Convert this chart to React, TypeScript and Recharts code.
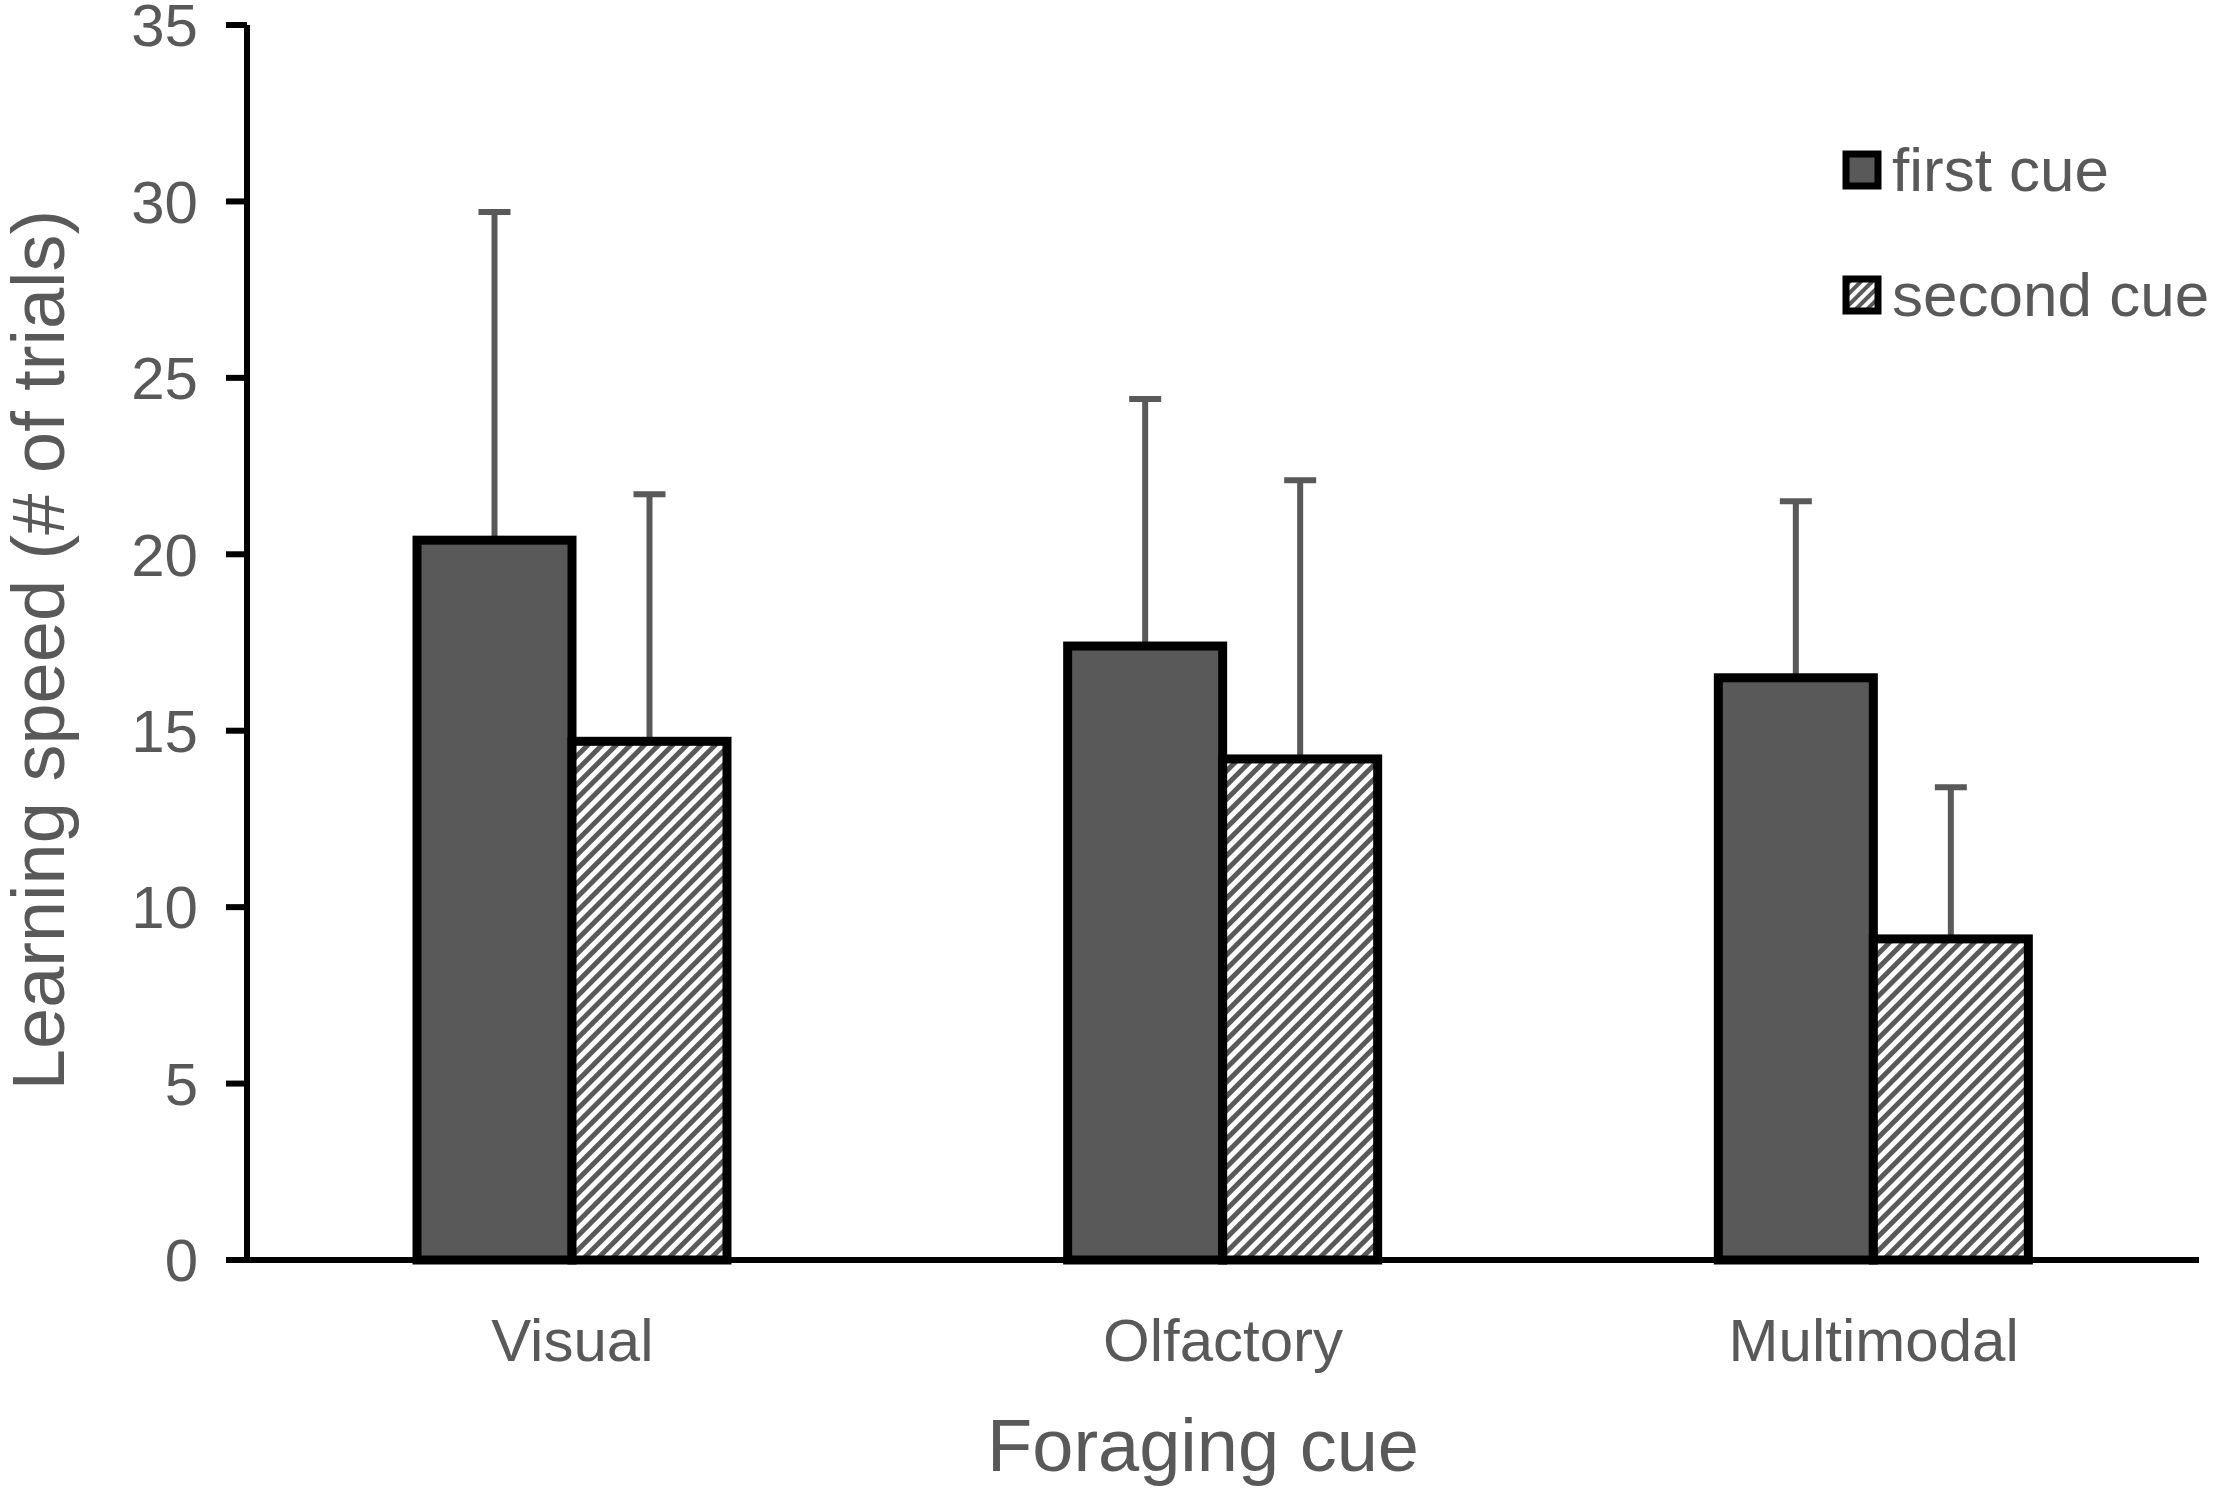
import React from "react";
import {
  BarChart,
  Bar,
  XAxis,
  YAxis,
  Legend,
  Label,
} from "recharts";

const categories = ["Visual", "Olfactory", "Multimodal"];
const firstCue = [20.4, 17.4, 16.5];
const firstErr = [9.3, 7.0, 5.0];
const secondCue = [14.7, 14.2, 9.1];
const secondErr = [7.0, 7.9, 4.3];
const yTicks = [0, 5, 10, 15, 20, 25, 30, 35];
const seriesNames = ["first cue", "second cue"];

const data = categories.map((name, i) => ({
  name,
  first: firstCue[i],
  firstErr: firstErr[i],
  second: secondCue[i],
  secondErr: secondErr[i],
}));

const GREY = "#595959";
const FONT = "'Liberation Sans', Arial, sans-serif";

// bar rect with an upward-only error whisker
function BarWithError(props: any) {
  const { x, y, width, height, fill, payload, valueKey, errKey } = props;
  const value = payload[valueKey];
  const perUnit = value ? height / value : 0;
  const errPx = payload[errKey] * perUnit;
  const cx = x + width / 2;
  return (
    <g>
      <line x1={cx} y1={y} x2={cx} y2={y - errPx} stroke={GREY} strokeWidth={6} />
      <line x1={cx - 16} y1={y - errPx} x2={cx + 16} y2={y - errPx} stroke={GREY} strokeWidth={6} />
      <rect x={x} y={y} width={width} height={height} fill={fill} stroke="#000" strokeWidth={9} />
    </g>
  );
}

function LegendBox() {
  const row = (label: string, fill: string) => (
    <div key={label} style={{ display: "flex", alignItems: "center", height: 60, marginBottom: 65 }}>
      <svg width={40} height={40} style={{ marginRight: 10 }}>
        <rect x={4} y={4} width={32} height={32} fill={fill} stroke="#000" strokeWidth={7} />
      </svg>
      <span style={{ fontFamily: FONT, fontSize: 62, color: GREY, lineHeight: "60px" }}>{label}</span>
    </div>
  );
  return (
    <div>
      {row(seriesNames[0], GREY)}
      {row(seriesNames[1], "url(#hatchLegend)")}
    </div>
  );
}

export default function App() {
  return (
    <div style={{ position: "absolute", left: 0, top: 0, width: 2217, height: 1491, background: "#fff" }}>
      <svg width={0} height={0} style={{ position: "absolute" }}>
        <defs>
          <pattern id="hatchLegend" width={8} height={8} patternUnits="userSpaceOnUse" patternTransform="rotate(45)">
            <rect width={8} height={8} fill="#fff" />
            <rect width={4} height={8} fill={GREY} />
          </pattern>
        </defs>
      </svg>
      <BarChart
        width={2217}
        height={1491}
        data={data}
        margin={{ top: 25, right: 18, bottom: 0, left: 0 }}
        barGap={0}
        barSize={155}
      >
        <defs>
          <pattern id="hatch" width={10} height={10} patternUnits="userSpaceOnUse" patternTransform="rotate(45)">
            <rect width={10} height={10} fill="#fff" />
            <rect width={5} height={10} fill={GREY} />
          </pattern>
        </defs>
        <XAxis
          dataKey="name"
          height={231}
          axisLine={{ stroke: "#000", strokeWidth: 6 }}
          tickLine={false}
          tickSize={0}
          tickMargin={58}
          tick={{ fill: GREY, fontSize: 60, fontFamily: FONT }}
        >
          <Label
            content={(p: any) => (
              <text
                x={p.viewBox.x + p.viewBox.width / 2 - 20}
                y={1471}
                textAnchor="middle"
                fill={GREY}
                fontSize={74}
                fontFamily={FONT}
              >
                Foraging cue
              </text>
            )}
          />
        </XAxis>
        <YAxis
          width={247}
          domain={[0, 35]}
          ticks={yTicks}
          interval={0}
          axisLine={{ stroke: "#000", strokeWidth: 6 }}
          tickLine={{ stroke: "#000", strokeWidth: 6 }}
          tickSize={21}
          tickMargin={28}
          tick={{ fill: GREY, fontSize: 60, fontFamily: FONT }}
        >
          <Label
            content={() => (
              <text
                x={64}
                y={650}
                transform="rotate(-90, 64, 650)"
                textAnchor="middle"
                fill={GREY}
                fontSize={74}
                fontFamily={FONT}
              >
                Learning speed (# of trials)
              </text>
            )}
          />
        </YAxis>
        <Legend
          layout="vertical"
          align="center"
          verticalAlign="middle"
          content={() => <LegendBox />}
          wrapperStyle={{ position: "absolute", left: 1842, top: 140, width: "auto" }}
        />
        <Bar
          dataKey="first"
          name={seriesNames[0]}
          fill={GREY}
          isAnimationActive={false}
          shape={(p: any) => <BarWithError {...p} valueKey="first" errKey="firstErr" />}
        />
        <Bar
          dataKey="second"
          name={seriesNames[1]}
          fill="url(#hatch)"
          isAnimationActive={false}
          shape={(p: any) => <BarWithError {...p} valueKey="second" errKey="secondErr" />}
        />
      </BarChart>
    </div>
  );
}
